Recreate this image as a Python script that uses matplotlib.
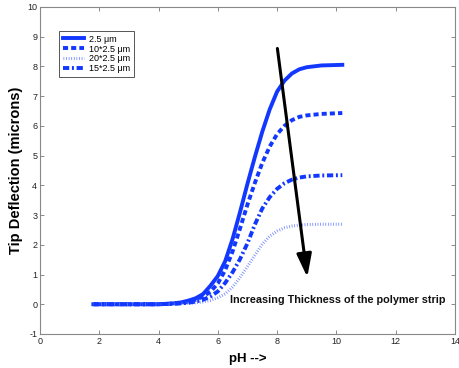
import matplotlib
matplotlib.use("Agg")
import matplotlib.pyplot as plt

plt.rcParams['font.family'] = ['Liberation Sans', 'DejaVu Sans']
plt.rcParams['axes.unicode_minus'] = False

# pH values at which the curves were read
ph = [1.8, 4.0, 4.5, 4.75, 5.0, 5.25, 5.5, 5.75, 6.0, 6.25, 6.5, 6.75, 7.0,
      7.25, 7.5, 7.75, 8.0, 8.25, 8.5, 8.75, 9.0, 9.5, 10.2]

# tip deflection (microns) for each strip thickness
d_1x = [0, 0, 0.03, 0.06, 0.12, 0.2, 0.34, 0.62, 0.95, 1.45, 2.2, 3.1, 4.05,
        4.95, 5.8, 6.55, 7.15, 7.52, 7.76, 7.9, 7.97, 8.03, 8.05]
d_10x = [0, 0, 0.02, 0.04, 0.08, 0.15, 0.26, 0.42, 0.7, 1.15, 1.78, 2.55, 3.35,
         4.08, 4.75, 5.3, 5.72, 6.0, 6.19, 6.3, 6.35, 6.4, 6.43]
d_15x = [0, 0, 0.02, 0.03, 0.05, 0.09, 0.15, 0.26, 0.43, 0.72, 1.08, 1.52, 2.05,
         2.68, 3.22, 3.6, 3.88, 4.07, 4.19, 4.26, 4.3, 4.33, 4.34]
d_20x = [0, 0, 0.01, 0.02, 0.03, 0.05, 0.08, 0.13, 0.22, 0.35, 0.58, 0.9, 1.27,
         1.65, 2.02, 2.29, 2.46, 2.57, 2.63, 2.66, 2.68, 2.69, 2.69]

labels = ['2.5 \u03bcm', '10*2.5 \u03bcm', '20*2.5 \u03bcm', '15*2.5 \u03bcm']

blue = '#1238ff'

fig = plt.figure(figsize=(4.59, 3.68), dpi=100)
ax = fig.add_axes([0.0871, 0.0924, 0.904, 0.889])

ax.plot(ph, d_1x, color=blue, lw=2.8, ls='-', label=labels[0])
ax.plot(ph, d_10x, color=blue, lw=2.8, ls=(0, (1.3, 0.8)), label=labels[1])
ax.plot(ph, d_20x, color='#6f84ff', lw=2.2, ls=(0, (0.25, 0.6)), label=labels[2])
ax.plot(ph, d_15x, color=blue, lw=2.8, ls=(0, (1.6, 0.7, 0.5, 0.7)), label=labels[3])

# arrow showing the trend
ax.annotate('', xy=(9.02, 0.91), xytext=(8.01, 8.6),
            arrowprops=dict(arrowstyle='-|>,head_length=1.4,head_width=0.45',
                            color='black', lw=2.2, shrinkA=0, shrinkB=0))
ax.text(6.4, 0.15, 'Increasing Thickness of the polymer strip', fontsize=7.8,
        fontweight='bold', color='#111111', va='center', ha='left')

ax.set_xlim(0, 14)
ax.set_ylim(-1, 10)
ax.set_xticks(range(0, 15, 2))
ax.set_yticks(range(-1, 11))
ax.tick_params(direction='in', top=True, right=True, length=3, width=0.6,
               labelsize=6.5, color='#777777', labelcolor='#222222', pad=2)
for s in ax.spines.values():
    s.set_color('#888888')
    s.set_linewidth(0.8)

ax.set_xlabel('pH -->', fontsize=9.5, fontweight='bold', labelpad=5)
ax.set_ylabel('Tip Deflection (microns)', fontsize=10.5, fontweight='bold', labelpad=3)

leg = ax.legend(loc='upper left', bbox_to_anchor=(0.036, 0.94), fontsize=6.5,
                handlelength=2.3, handletextpad=0.6, borderpad=0.4,
                labelspacing=0.1, fancybox=False, framealpha=1)
leg.get_frame().set_edgecolor('#555555')
leg.get_frame().set_linewidth(0.7)

fig.savefig('out.png', dpi=100)
